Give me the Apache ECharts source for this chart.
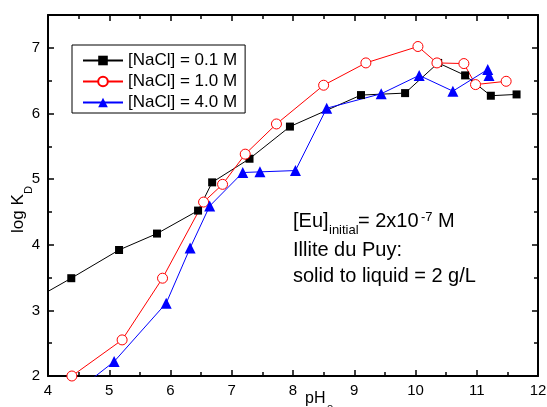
<!DOCTYPE html>
<html>
<head>
<meta charset="utf-8">
<script src="https://cdn.jsdelivr.net/npm/echarts@6/dist/echarts.min.js"></script>
<style>
  html, body { margin: 0; padding: 0; background: #fff; }
  #chart { width: 547px; height: 407px; }
</style>
</head>
<body>
<div id="chart"></div>
<script>
const FONT = '"Liberation Sans", Arial, Helvetica, sans-serif';

// Eu sorption on Illite du Puy: log K_D versus pH for three NaCl concentrations
// (first point of 0.1 M and 4.0 M lies just outside the plotted window)
const pH_01 = [3.70, 4.38, 5.16, 5.78, 6.45, 6.68, 7.29, 7.95, 9.11, 9.83, 10.37, 10.81, 11.23, 11.65];
const logKd_01 = [3.13, 3.49, 3.92, 4.17, 4.52, 4.95, 5.31, 5.80, 6.28, 6.31, 6.77, 6.58, 6.27, 6.29];

const pH_10 = [4.39, 5.21, 5.87, 6.54, 6.85, 7.22, 7.73, 8.50, 9.19, 10.04, 10.35, 10.79, 10.98, 11.48];
const logKd_10 = [2.00, 2.55, 3.49, 4.65, 4.92, 5.38, 5.84, 6.43, 6.77, 7.02, 6.77, 6.76, 6.44, 6.49];

const pH_40 = [4.45, 5.08, 5.93, 6.32, 6.64, 7.18, 7.46, 8.04, 8.55, 9.44, 10.06, 10.61, 11.18, 11.20];
const logKd_40 = [1.76, 2.22, 3.11, 3.95, 4.59, 5.10, 5.11, 5.13, 6.08, 6.30, 6.58, 6.34, 6.67, 6.58];

const seriesNames = ['[NaCl] = 0.1 M', '[NaCl] = 1.0 M', '[NaCl] = 4.0 M'];

const xRange = [4, 12];
const yRange = [2, 7.5];

function zip(xs, ys) { return xs.map((x, i) => [x, ys[i]]); }

const black = '#000000';
const tickStyle = { color: black, width: 1.5 };
const frameLine = { show: true, onZero: false, lineStyle: { color: black, width: 2 } };
const labelStyle = { color: black, fontSize: 15, fontFamily: FONT };

function xAxisDef(position, showLabels) {
  return {
    type: 'value', position: position, min: xRange[0], max: xRange[1], interval: 1,
    axisLine: frameLine,
    axisTick: { show: true, inside: true, length: 6, lineStyle: tickStyle },
    minorTick: { show: true, splitNumber: 2, length: 4, lineStyle: tickStyle },
    splitLine: { show: false }, minorSplitLine: { show: false },
    axisLabel: Object.assign({ show: showLabels, margin: 7 }, labelStyle)
  };
}

function yAxisDef(position, step, tickLen, showLabels, showLine) {
  return {
    type: 'value', position: position, min: yRange[0], max: yRange[1], interval: step,
    axisLine: showLine ? frameLine : { show: false },
    axisTick: { show: true, inside: true, length: tickLen, lineStyle: tickStyle },
    splitLine: { show: false },
    axisLabel: Object.assign({ show: showLabels, margin: 8, showMaxLabel: false }, labelStyle)
  };
}

const chart = echarts.init(document.getElementById('chart'), null, { renderer: 'canvas' });

chart.setOption({
  animation: false,
  backgroundColor: '#ffffff',
  grid: { left: 48, right: 9, top: 15, bottom: 31, outerBoundsMode: 'none' },
  xAxis: [xAxisDef('bottom', true), xAxisDef('top', false)],
  yAxis: [
    yAxisDef('left', 1, 6, true, true),
    yAxisDef('left', 0.5, 4, false, false),
    yAxisDef('right', 1, 6, false, true),
    yAxisDef('right', 0.5, 4, false, false)
  ],
  legend: {
    orient: 'vertical',
    left: 72, top: 45,
    padding: [7, 8, 2, 10],
    itemGap: 4,
    itemWidth: 40, itemHeight: 12,
    borderColor: '#000', borderWidth: 1,
    backgroundColor: '#fff',
    textStyle: { color: black, fontSize: 17, lineHeight: 17, fontFamily: FONT },
    data: seriesNames
  },
  series: [
    {
      name: seriesNames[0], type: 'line', data: zip(pH_01, logKd_01),
      symbol: 'rect', symbolSize: 8,
      lineStyle: { color: black, width: 1 },
      itemStyle: { color: black }
    },
    {
      name: seriesNames[1], type: 'line', data: zip(pH_10, logKd_10),
      symbol: 'circle', symbolSize: 10,
      lineStyle: { color: '#ff0000', width: 1 },
      itemStyle: { color: '#ffffff', borderColor: '#ff0000', borderWidth: 1 }
    },
    {
      name: seriesNames[2], type: 'line', data: zip(pH_40, logKd_40),
      symbol: 'triangle', symbolSize: 11,
      lineStyle: { color: '#0000ff', width: 1 },
      itemStyle: { color: '#0000ff' }
    }
  ],
  graphic: [
    // y axis title: log K_D
    { type: 'text', x: 18, y: 233, rotation: Math.PI / 2,
      style: { text: 'log K', fontSize: 17, fontFamily: FONT, fill: black, align: 'left', verticalAlign: 'middle' } },
    { type: 'text', x: 29, y: 194, rotation: Math.PI / 2,
      style: { text: 'D', fontSize: 11, fontFamily: FONT, fill: black, align: 'left', verticalAlign: 'middle' } },
    // x axis title: pH_e
    { type: 'text', x: 305, y: 399,
      style: { text: 'pH', fontSize: 16, fontFamily: FONT, fill: black, align: 'left', verticalAlign: 'middle' } },
    { type: 'text', x: 327, y: 408,
      style: { text: 'e', fontSize: 11, fontFamily: FONT, fill: black, align: 'left', verticalAlign: 'middle' } },
    // experimental conditions
    { type: 'text', x: 293, y: 221,
      style: { text: '[Eu]', fontSize: 20, fontFamily: FONT, fill: black, align: 'left', verticalAlign: 'middle' } },
    { type: 'text', x: 329, y: 230.5,
      style: { text: 'initial', fontSize: 13, fontFamily: FONT, fill: black, align: 'left', verticalAlign: 'middle' } },
    { type: 'text', x: 358, y: 221,
      style: { text: '= 2x10', fontSize: 20, fontFamily: FONT, fill: black, align: 'left', verticalAlign: 'middle' } },
    { type: 'text', x: 421, y: 217.5,
      style: { text: '-7', fontSize: 13, fontFamily: FONT, fill: black, align: 'left', verticalAlign: 'middle' } },
    { type: 'text', x: 438, y: 221,
      style: { text: 'M', fontSize: 20, fontFamily: FONT, fill: black, align: 'left', verticalAlign: 'middle' } },
    { type: 'text', x: 293, y: 250,
      style: { text: 'Illite du Puy:', fontSize: 20, fontFamily: FONT, fill: black, align: 'left', verticalAlign: 'middle' } },
    { type: 'text', x: 293, y: 276,
      style: { text: 'solid to liquid = 2 g/L', fontSize: 20, fontFamily: FONT, fill: black, align: 'left', verticalAlign: 'middle' } }
  ]
});
</script>
</body>
</html>
